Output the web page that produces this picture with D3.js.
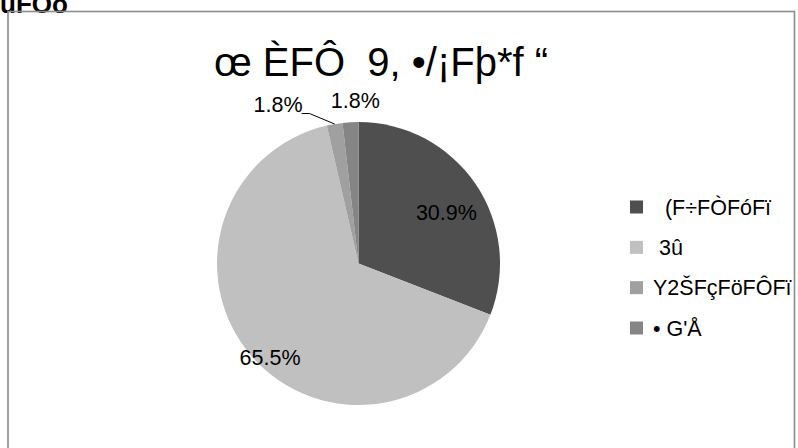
<!DOCTYPE html>
<html><head><meta charset="utf-8">
<script src="https://cdn.jsdelivr.net/npm/d3@7"></script>
<style>
html,body{margin:0;padding:0;background:#fff;}
svg{display:block;font-family:"Liberation Sans",Arial,sans-serif;}
text{white-space:pre;}
</style></head>
<body><svg id="c" width="798" height="448"></svg>
<script>
const corner = "ùFÓò";
const title = "œ ÈFÔ  9, •/¡Fþ*f “";
const categories = ["  (F÷FÒFóFï", " 3û", "Y2ŠFçFöFÔFï", "• G'Å"];
const values = [30.9, 65.5, 1.8, 1.8];
const labels = ["30.9%", "65.5%", "1.8%", "1.8%"];
const colors = ["#4f4f4f", "#c0c0c0", "#a0a0a0", "#858585"];

const svg = d3.select("#c");
svg.append("defs").append("clipPath").attr("id","clip")
  .append("rect").attr("x",8).attr("y",11).attr("width",786).attr("height",440);

svg.append("text").attr("x",0).attr("y",13).attr("font-size",26).attr("font-weight","bold").text(corner);

svg.append("rect").attr("x",8).attr("y",11.5).attr("width",786.5).attr("height",445)
  .attr("fill","none").attr("stroke","#8c8c8c").attr("stroke-width",1.6);

svg.append("text").attr("x",381).attr("y",76).attr("text-anchor","middle")
  .attr("font-size",40).text(title);

const cx = 358.5, cy = 263.5, R = 141.5;
const pie = d3.pie().sort(null).value(d => d)(values);
const arc = d3.arc().innerRadius(0).outerRadius(R);
const g = svg.append("g").attr("transform",`translate(${cx},${cy})`);
g.selectAll("path").data(pie).join("path")
  .attr("d", arc).attr("fill",(d,i)=>colors[i]);

function pt(a, r){ return [Math.sin(a)*r, -Math.cos(a)*r]; }
const mid = d => (d.startAngle + d.endAngle)/2;
const fs = 21.5;
// big slice labels inside
const p0 = pt(mid(pie[0]) + 0.07, R*0.72);
g.append("text").attr("x",p0[0]).attr("y",p0[1]).attr("dy","0.35em").attr("text-anchor","middle")
  .attr("font-size",fs).text(labels[0]);
const p1 = pt(mid(pie[1]) - 0.1, R*0.91);
g.append("text").attr("x",p1[0]).attr("y",p1[1]).attr("dy","0.35em").attr("text-anchor","middle")
  .attr("font-size",fs).text(labels[1]);
// small slices outside
const p3 = pt(mid(pie[3]), R + 22);
g.append("text").attr("x",p3[0]+6).attr("y",p3[1]+8).attr("text-anchor","middle")
  .attr("font-size",fs).text(labels[3]);
const e2 = pt(mid(pie[2]), R);
const k = [e2[0]-25, e2[1]-10.5];
g.append("polyline").attr("points",[e2, k, [k[0]-8,k[1]]].map(p=>p.join(",")).join(" "))
  .attr("fill","none").attr("stroke","#000").attr("stroke-width",1);
g.append("text").attr("x",k[0]-7).attr("y",k[1]-2).attr("text-anchor","end")
  .attr("font-size",fs).text(labels[2]);

// legend
const lg = svg.append("g").attr("clip-path","url(#clip)");
const ly = d3.scalePoint().domain(d3.range(categories.length)).range([207, 328]);
categories.forEach((c,i)=>{
  lg.append("rect").attr("x",630).attr("y",ly(i)-6.5).attr("width",13).attr("height",13).attr("fill",colors[i]);
  lg.append("text").attr("x",653).attr("y",ly(i)).attr("dy","0.36em").attr("font-size",fs).text(c);
});
</script></body></html>
